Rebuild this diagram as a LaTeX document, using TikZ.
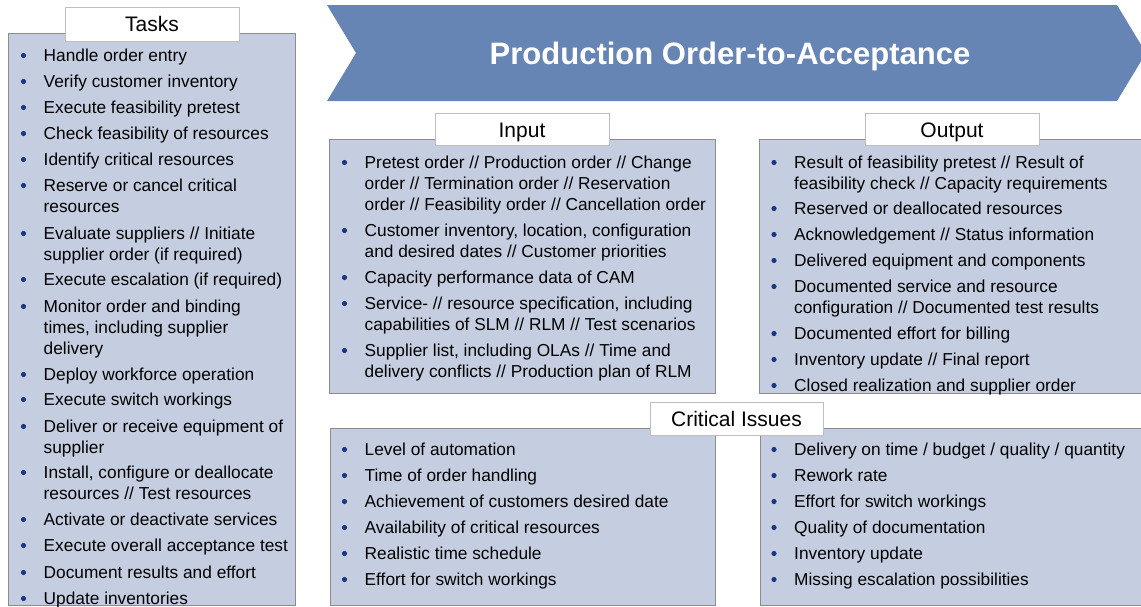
\documentclass[tikz,border=0pt]{standalone}
\usepackage{fontspec}
\setmainfont{Liberation Sans}
\definecolor{boxfill}{RGB}{197,206,224}
\definecolor{boxline}{RGB}{140,140,140}
\definecolor{labline}{RGB}{190,190,190}
\definecolor{headfill}{RGB}{102,133,180}
\definecolor{bulletc}{RGB}{28,55,130}
\tikzset{
  panel/.style={draw=boxline, fill=boxfill, line width=0.9pt, anchor=north west, inner sep=0pt},
  lab/.style={draw=labline, fill=white, line width=0.9pt, inner sep=0pt, text height=15pt, text depth=0pt, font=\fontsize{21}{25}\selectfont},
  item/.style={anchor=base west, align=left, inner sep=0pt, font=\fontsize{17.3}{21}\selectfont, text=black},
}
% #1 name, #2 bullet x, #3 first baseline, #4 extra lines, #5 text
\newcommand\bitem[5]{%
  \fill[bulletc] (#2,#3-5.5) circle (2.6);
  \node[item] (#1) at (#2+20,#3+#4*21) {#5};}
\begin{document}
\begin{tikzpicture}[x=1pt,y=-1pt]
\useasboundingbox (0,0) rectangle (1141,606);
\clip (0,0) rectangle (1141,606);
% header chevron
\fill[headfill] (327,5) -- (1117,5) -- (1146,53) -- (1117,101) -- (327,101) -- (356,53) -- cycle;
\node[text=white, inner sep=0pt, text height=22.2pt, text depth=0pt, font=\fontsize{31}{36}\selectfont\bfseries] (title) at (730,53.5) {Production Order-to-Acceptance};
% panels
\node[panel, minimum width=287pt, minimum height=572pt] (tasks) at (8,33) {};
\node[panel, minimum width=386pt, minimum height=254pt] (input) at (329,139) {};
\node[panel, minimum width=400pt, minimum height=254pt] (output) at (759,139) {};
\node[panel, minimum width=385pt, minimum height=177pt] (critl) at (330,428) {};
\node[panel, minimum width=400pt, minimum height=177pt] (critr) at (760,428) {};
% labels
\node[lab, minimum width=174pt, minimum height=34pt] (tasklab) at (152,24) {Tasks};
\node[lab, minimum width=174pt, minimum height=32pt] (inlab) at (522,129.5) {Input};
\node[lab, minimum width=174pt, minimum height=32pt] (outlab) at (952,129.5) {Output};
\node[lab, minimum width=173pt, minimum height=33pt] (critlab) at (736.5,418.5) {Critical Issues};
% tasks
\bitem{t1}{23.5}{61}{0}{Handle order entry}
\bitem{t2}{23.5}{87}{0}{Verify customer inventory}
\bitem{t3}{23.5}{113}{0}{Execute feasibility pretest}
\bitem{t4}{23.5}{139}{0}{Check feasibility of resources}
\bitem{t5}{23.5}{165}{0}{Identify critical resources}
\bitem{t6}{23.5}{191}{1}{Reserve or cancel critical\\resources}
\bitem{t7}{23.5}{239}{1}{Evaluate suppliers // Initiate\\supplier order (if required)}
\bitem{t8}{23.5}{285}{0}{Execute escalation (if required)}
\bitem{t9}{23.5}{312}{2}{Monitor order and binding\\times, including supplier\\delivery}
\bitem{t10}{23.5}{380}{0}{Deploy workforce operation}
\bitem{t11}{23.5}{405}{0}{Execute switch workings}
\bitem{t12}{23.5}{432}{1}{Deliver or receive equipment of\\supplier}
\bitem{t13}{23.5}{478}{1}{Install, configure or deallocate\\resources // Test resources}
\bitem{t14}{23.5}{525}{0}{Activate or deactivate services}
\bitem{t15}{23.5}{551}{0}{Execute overall acceptance test}
\bitem{t16}{23.5}{578}{0}{Document results and effort}
\bitem{t17}{23.5}{604}{0}{Update inventories}
% input
\bitem{i1}{344.5}{168}{2}{Pretest order // Production order // Change\\order // Termination order // Reservation\\order // Feasibility order // Cancellation order}
\bitem{i2}{344.5}{236}{1}{Customer inventory, location, configuration\\and desired dates // Customer priorities}
\bitem{i3}{344.5}{283}{0}{Capacity performance data of CAM}
\bitem{i4}{344.5}{309}{1}{Service- // resource specification, including\\capabilities of SLM // RLM // Test scenarios}
\bitem{i5}{344.5}{356}{1}{Supplier list, including OLAs // Time and\\delivery conflicts // Production plan of RLM}
% output
\bitem{o1}{774}{168}{1}{Result of feasibility pretest // Result of\\feasibility check // Capacity requirements}
\bitem{o2}{774}{214}{0}{Reserved or deallocated resources}
\bitem{o3}{774}{240}{0}{Acknowledgement // Status information}
\bitem{o4}{774}{266}{0}{Delivered equipment and components}
\bitem{o5}{774}{292}{1}{Documented service and resource\\configuration // Documented test results}
\bitem{o6}{774}{339}{0}{Documented effort for billing}
\bitem{o7}{774}{365}{0}{Inventory update // Final report}
\bitem{o8}{774}{391}{0}{Closed realization and supplier order}
% critical issues left
\bitem{cl1}{344.5}{455}{0}{Level of automation}
\bitem{cl2}{344.5}{481}{0}{Time of order handling}
\bitem{cl3}{344.5}{507}{0}{Achievement of customers desired date}
\bitem{cl4}{344.5}{533}{0}{Availability of critical resources}
\bitem{cl5}{344.5}{559}{0}{Realistic time schedule}
\bitem{cl6}{344.5}{585}{0}{Effort for switch workings}
% critical issues right
\bitem{cr1}{774}{455}{0}{Delivery on time / budget / quality / quantity}
\bitem{cr2}{774}{481}{0}{Rework rate}
\bitem{cr3}{774}{507}{0}{Effort for switch workings}
\bitem{cr4}{774}{533}{0}{Quality of documentation}
\bitem{cr5}{774}{559}{0}{Inventory update}
\bitem{cr6}{774}{585}{0}{Missing escalation possibilities}
\end{tikzpicture}
\end{document}
